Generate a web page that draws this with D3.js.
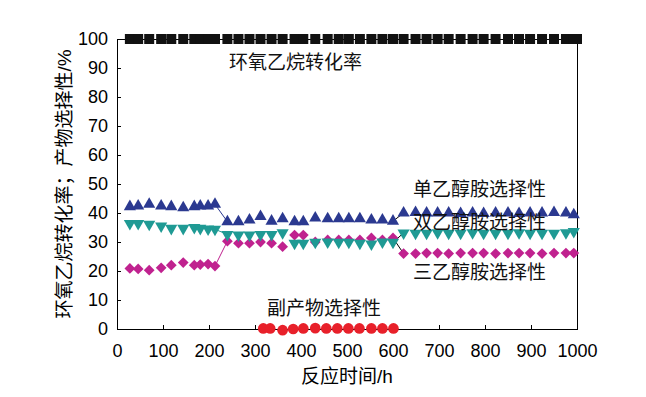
<!DOCTYPE html>
<meta charset="utf-8">
<script src="https://d3js.org/d3.v7.min.js"></script>
<style>
  body { margin: 0; background: #fff; }
  text { font-family: "Liberation Sans", "Noto Sans CJK SC", sans-serif; }
</style>
<div id="chart"></div>
<script>

// sampling times (h) for the three ethanolamine series
var hours = [28, 46, 70, 96, 118, 144, 168, 181, 198, 213,
             240, 264, 288, 312, 336, 360, 386, 405, 431, 458, 482, 504, 528, 553, 577, 600,
             623, 649, 673, 697, 721, 747, 773, 797, 823, 850, 874, 898, 924, 950, 976, 993];

// 单乙醇胺选择性
var meaSel = [42.2, 42.4, 43.0, 42.4, 42.2, 41.8, 42.2, 42.4, 42.4, 43.0,
              37.0, 37.0, 37.6, 38.8, 37.2, 38.0, 37.0, 37.0, 38.3, 38.0, 38.0, 38.0, 38.0, 37.6, 37.6, 37.2,
              40.0, 40.2, 40.0, 40.0, 40.0, 39.8, 40.0, 39.8, 40.0, 40.0, 39.8, 40.0, 40.0, 40.2, 40.0, 39.4];

// 双乙醇胺选择性
var deaSel = [36.4, 36.4, 36.1, 35.5, 34.7, 34.7, 35.0, 34.7, 34.5, 34.4,
              32.6, 32.4, 32.4, 32.6, 32.6, 33.2, 29.6, 29.6, 29.9, 30.0, 29.9, 29.9, 29.6, 29.3, 30.0, 29.9,
              33.1, 33.0, 33.0, 33.2, 33.0, 33.0, 33.2, 33.0, 33.0, 33.0, 33.2, 33.0, 33.0, 33.0, 33.2, 33.6];

// 三乙醇胺选择性
var teaSel = [20.9, 20.7, 20.3, 21.1, 22.0, 22.9, 22.0, 22.2, 22.4, 21.7,
              30.3, 29.6, 29.6, 30.0, 29.6, 28.4, 32.4, 32.4, 30.0, 30.7, 30.7, 30.7, 30.7, 31.4, 30.7, 31.4,
              26.0, 26.0, 26.2, 26.2, 26.0, 26.2, 26.2, 26.2, 26.0, 26.2, 26.2, 26.2, 26.0, 26.2, 26.2, 26.2];

// 环氧乙烷转化率
var convHours = hours.concat([1000]);
var conversion = convHours.map(function() { return 100; });

// 副产物选择性
var byHours = [318, 333, 360, 383, 405, 431, 455, 479, 503, 527, 553, 577, 601];
var bySel   = [0.2, 0.2, -0.4, 0.0, 0.2, 0.3, 0.2, 0.2, 0.2, 0.2, 0.2, 0.2, 0.2];

var xTicks = [0, 100, 200, 300, 400, 500, 600, 700, 800, 900, 1000];
var yTicks = [0, 10, 20, 30, 40, 50, 60, 70, 80, 90, 100];

var width = 646, height = 397;
var margin = {top: 39, right: 69, bottom: 68, left: 117};

var svg = d3.select("#chart").append("svg")
    .attr("width", width)
    .attr("height", height);

var x = d3.scaleLinear().domain([0, 1000]).range([margin.left, width - margin.right]);
var y = d3.scaleLinear().domain([0, 100]).range([height - margin.bottom, margin.top]);

// frame
svg.append("rect")
    .attr("x", x(0) + 0.5).attr("y", y(100) + 0.5)
    .attr("width", x(1000) - x(0)).attr("height", y(0) - y(100))
    .attr("fill", "none").attr("stroke", "#000");

// axes, ticks inward
svg.append("g")
    .attr("transform", "translate(0," + y(0) + ")")
    .call(d3.axisBottom(x).tickValues(xTicks).tickFormat(d3.format("d"))
      .tickSizeInner(-4).tickSizeOuter(0).tickPadding(15))
    .call(function(g) { g.selectAll("text").attr("font-size", 18).attr("font-family", "Liberation Sans"); });

svg.append("g")
    .attr("transform", "translate(" + x(0) + ",0)")
    .call(d3.axisLeft(y).tickValues(yTicks).tickFormat(d3.format("d"))
      .tickSizeInner(-4).tickSizeOuter(0).tickPadding(9))
    .call(function(g) { g.selectAll("text").attr("font-size", 18).attr("font-family", "Liberation Sans"); });

// transition connectors
function connector(i, vals, color) {
  svg.append("line")
      .attr("x1", x(hours[i])).attr("y1", y(vals[i]))
      .attr("x2", x(hours[i + 1])).attr("y2", y(vals[i + 1]))
      .attr("stroke", color).attr("stroke-width", 1);
}
connector(9, meaSel, "#2b3990");
connector(9, deaSel, "#1f9a94");
connector(9, teaSel, "#c0228f");
connector(25, meaSel, "#000");
connector(25, deaSel, "#000");
connector(25, teaSel, "#000");

function markers(xs, vals, type, size, color, rot) {
  svg.append("g").selectAll("path")
    .data(vals)
    .enter().append("path")
      .attr("d", d3.symbol().type(type).size(size))
      .attr("transform", function(d, i) {
        return "translate(" + x(xs[i]) + "," + y(d) + ")" + (rot ? " rotate(" + rot + ")" : "");
      })
      .attr("fill", color);
}

markers(convHours, conversion, d3.symbolSquare, 100, "#111", 0);
markers(hours, teaSel, d3.symbolSquare, 58, "#c0228f", 45);
markers(hours, deaSel, d3.symbolTriangle, 64, "#1f9a94", 180);
markers(hours, meaSel, d3.symbolTriangle, 64, "#2b3990", 0);
markers(byHours, bySel, d3.symbolCircle, 90, "#e8202a", 0);

// annotations
var notes = [
  {t: "环氧乙烷转化率", x: 229, y: 69},
  {t: "单乙醇胺选择性", x: 413, y: 196},
  {t: "双乙醇胺选择性", x: 413, y: 229},
  {t: "三乙醇胺选择性", x: 413, y: 279},
  {t: "副产物选择性", x: 267, y: 315}
];
svg.selectAll(".note")
  .data(notes)
  .enter().append("text")
    .attr("x", function(d) { return d.x; })
    .attr("y", function(d) { return d.y; })
    .attr("font-size", 19)
    .attr("fill", "#111")
    .text(function(d) { return d.t; });

// axis titles
svg.append("text")
    .attr("x", (x(0) + x(1000)) / 2)
    .attr("y", 383)
    .attr("text-anchor", "middle")
    .attr("font-size", 19)
    .text("反应时间/h");

svg.append("text")
    .attr("transform", "translate(71," + (y(50)) + ") rotate(-90)")
    .attr("text-anchor", "middle")
    .attr("font-size", 19)
    .text("环氧乙烷转化率；产物选择性/%");

</script>
